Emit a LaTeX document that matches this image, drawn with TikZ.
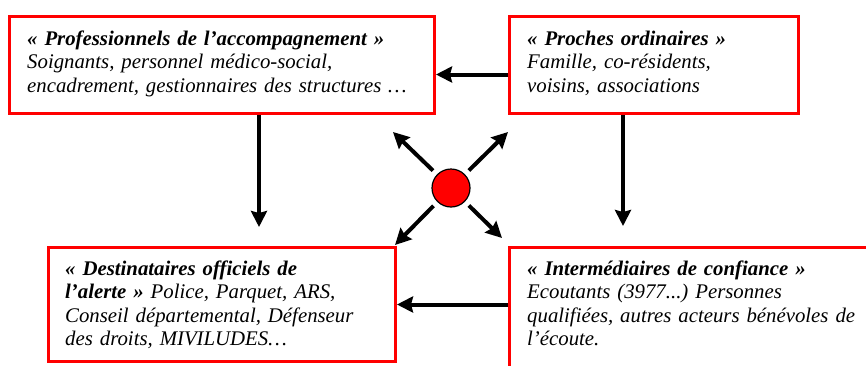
\documentclass[tikz,border=0pt]{standalone}
\usepackage{fontspec}
\setmainfont{Liberation Serif}
\usetikzlibrary{arrows.meta}
\begin{document}
\begin{tikzpicture}[x=1pt,y=-1pt,
 box/.style={draw=red, line width=3pt, rectangle, inner sep=0pt, anchor=north west},
 txt/.style={anchor=base west, inner sep=0pt, text width=440pt, align=left, font=\fontsize{20.8}{23.6}\selectfont\itshape\frenchspacing},
 arr/.style={line width=4pt, -{Stealth[length=16pt,width=16pt,inset=2pt]}},
 dot/.style={circle, draw=black, line width=1.2pt, fill=red, minimum size=38pt, inner sep=0pt}]
\useasboundingbox (0,0) rectangle (866,365);
\clip (0,0) rectangle (866,365);
% boxes
\node[box, minimum width=425pt, minimum height=97pt] (A) at (8,15) {};
\node[box, minimum width=289pt, minimum height=97pt] (B) at (508,15) {};
\node[box, minimum width=347pt, minimum height=114pt] (C) at (47,246) {};
\node[box, minimum width=380pt, minimum height=130pt] (D) at (508,246) {};
% texts
\node[txt] (tA) at (27,45) {\textbf{« Professionnels de l’accompagnement »}\\ Soignants, personnel médico-social,\\ encadrement, gestionnaires des structures …};
\node[txt] (tB) at (527,45) {\textbf{« Proches ordinaires »}\\ Famille, co-résidents,\\ voisins, associations};
\node[txt] (tC) at (65,275) {\textbf{« Destinataires officiels de}\\ \textbf{l’alerte »} Police, Parquet, ARS,\\ Conseil départemental, Défenseur\\ des droits, MIVILUDES…};
\node[txt] (tD) at (527,275) {\textbf{« Intermédiaires de confiance »}\\ Ecoutants (3977...) Personnes\\ qualifiées, autres acteurs bénévoles de\\ l’écoute.};
% centre
\node[dot] (c) at (451,188) {};
\coordinate (ul) at (393,132);
\coordinate (ur) at (508,132);
\coordinate (ll) at (395,245);
\coordinate (lr) at (502,238);
\coordinate (aend) at (259,227);
\coordinate (bend) at (623,226);
% connectors
\draw[arr] ([yshift=-9.5pt]B.west) -- ([yshift=-9.5pt]B.west -| A.east);
\draw[arr] (A.south -| aend) -- (aend);
\draw[arr] (B.south -| bend) -- (bend);
\draw[arr] (C.east -| D.west) -- (C.east);
\draw[arr, shorten <=25pt] (c.center) -- (ul);
\draw[arr, shorten <=25pt] (c.center) -- (ur);
\draw[arr, shorten <=25pt] (c.center) -- (ll);
\draw[arr, shorten <=25pt] (c.center) -- (lr);
\end{tikzpicture}
\end{document}
